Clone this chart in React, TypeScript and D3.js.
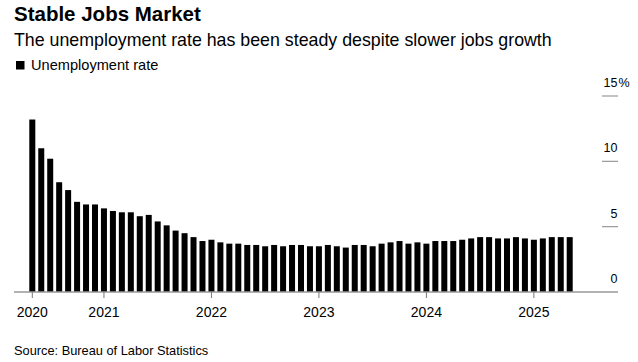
import React from "react";
import * as d3 from "d3";

const title = "Stable Jobs Market";
const subtitle = "The unemployment rate has been steady despite slower jobs growth";
const legendLabel = "Unemployment rate";
const source = "Source: Bureau of Labor Statistics";

// Monthly categories: May 2020 .. May 2025
const startMonth = new Date(2020, 4, 1);
const endMonthExclusive = new Date(2025, 5, 1);

// Unemployment rate, %
const rate2020 = [13.2, 11.0, 10.2, 8.4, 7.8, 6.9, 6.7, 6.7];
const rate2021 = [6.4, 6.2, 6.1, 6.1, 5.8, 5.9, 5.4, 5.1, 4.7, 4.5, 4.2, 3.9];
const rate2022 = [4.0, 3.8, 3.7, 3.7, 3.6, 3.6, 3.5, 3.6, 3.5, 3.6, 3.6, 3.5];
const rate2023 = [3.5, 3.6, 3.5, 3.4, 3.6, 3.6, 3.5, 3.7, 3.8, 3.9, 3.7, 3.8];
const rate2024 = [3.7, 3.9, 3.9, 3.9, 4.0, 4.1, 4.2, 4.2, 4.1, 4.1, 4.2, 4.1];
const rate2025 = [4.0, 4.1, 4.2, 4.2, 4.2];

const yTicks = [0, 5, 10, 15];
const yTickLabels = ["0", "5", "10", "15"];

const FONT = "'Liberation Sans', Arial, Helvetica, sans-serif";

export default function App() {
  const W = 638;
  const H = 362;
  const values = [...rate2020, ...rate2021, ...rate2022, ...rate2023, ...rate2024, ...rate2025];
  const months = d3.timeMonth.range(startMonth, endMonthExclusive);
  const data = months.map((m, i) => ({ m, v: values[i], i }));

  const baseY = 292;
  const y = d3.scaleLinear().domain([0, 15]).range([baseY, 96]);
  const x = d3
    .scaleBand<number>()
    .domain(data.map((d) => d.i))
    .range([27.82, 574.18])
    .paddingInner(0.33)
    .paddingOuter(0.165);

  const yearTicks = data.filter((d, k) => k === 0 || d.m.getMonth() === 0);
  const bw = x.bandwidth();

  return (
    <svg
      width={W}
      height={H}
      style={{ position: "absolute", left: 0, top: 0, background: "#fff" }}
      fontFamily={FONT}
    >
      <rect x={0} y={0} width={W} height={H} fill="#fff" />
      <text x={14} y={21} fontSize={20.5} fontWeight="bold" fill="#000">
        {title}
      </text>
      <text x={14} y={46} fontSize={17.8} fill="#000">
        {subtitle}
      </text>
      <rect x={16} y={61} width={8.5} height={8.5} fill="#000" />
      <text x={31} y={70} fontSize={14.6} fill="#000">
        {legendLabel}
      </text>

      {/* y axis ticks and labels on the right */}
      {yTicks.map((t, k) => (
        <g key={t}>
          {t > 0 && (
            <line x1={602} x2={618} y1={y(t)} y2={y(t)} stroke="#999" strokeWidth={1.2} />
          )}
          <text x={617.5} y={y(t) - 9} fontSize={12.5} fill="#000" textAnchor="end">
            {yTickLabels[k]}
          </text>
          {t === 15 && (
            <text x={618.5} y={y(t) - 9} fontSize={12.5} fill="#000">
              %
            </text>
          )}
        </g>
      ))}

      {data.map((d) => (
        <rect
          key={d.i}
          x={x(d.i)}
          y={y(d.v)}
          width={bw}
          height={baseY - y(d.v)}
          fill="#000"
        />
      ))}

      <line x1={14} x2={618} y1={baseY} y2={baseY} stroke="#999" strokeWidth={1.5} />
      {yearTicks.map((d) => {
        const cx = (x(d.i) as number) + bw / 2;
        return (
          <g key={d.i}>
            <line x1={cx} x2={cx} y1={baseY} y2={baseY + 6} stroke="#777" strokeWidth={1} />
            <text x={cx} y={317} fontSize={14} textAnchor="middle" fill="#000">
              {d.m.getFullYear()}
            </text>
          </g>
        );
      })}

      <text x={14} y={355} fontSize={12.8} fill="#000">
        {source}
      </text>
    </svg>
  );
}
